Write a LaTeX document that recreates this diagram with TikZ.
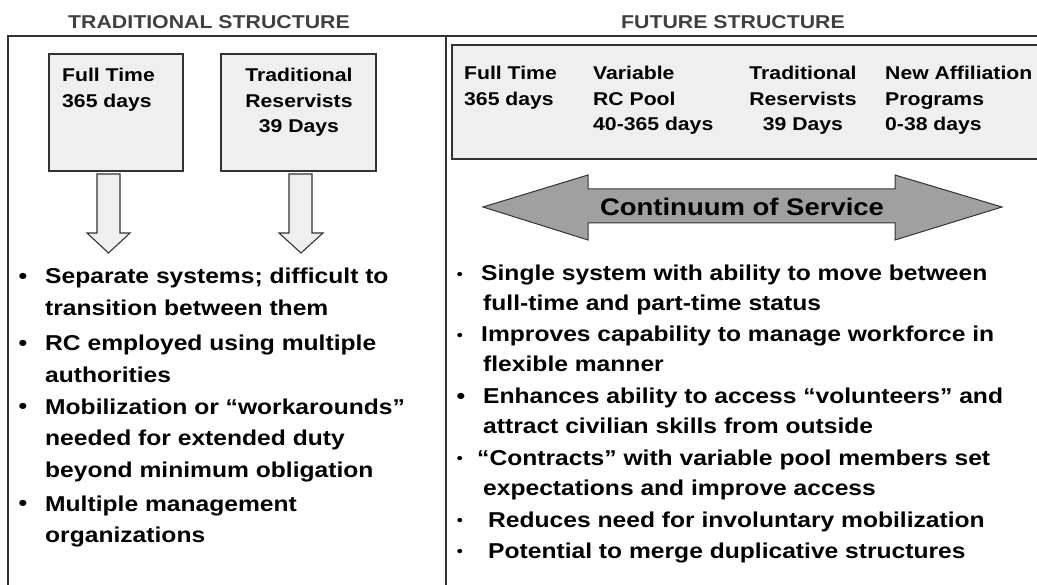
\documentclass[tikz,border=0pt]{standalone}
\usepackage{fontspec}
\setmainfont{Liberation Sans}[FakeStretch=1.145]
\usetikzlibrary{calc, positioning}
\usepackage{xcolor}
\definecolor{framegray}{HTML}{333333}
\definecolor{boxfill}{HTML}{EFEFEF}
\definecolor{headgray}{HTML}{404040}
\definecolor{arrowgray}{HTML}{A0A0A0}

\begin{document}
\begin{tikzpicture}[x=1pt, y=-1pt, line join=miter]
	\tikzstyle{frame} = [line width=1.5pt, draw=framegray]
	\tikzstyle{box} = [line width=1.2pt, draw=framegray, fill=boxfill, rectangle, inner sep=0pt]
	\tikzstyle{head} = [font=\fontsize{18.6}{22}\selectfont\bfseries, text=headgray, inner sep=0pt]
	\tikzstyle{boxtxt} = [font=\fontsize{18.5}{25.5}\selectfont\bfseries, inner sep=0pt, align=left]
	\tikzstyle{item} = [font=\fontsize{21.5}{31.5}\selectfont\bfseries, inner sep=0pt, align=left, anchor=base west]
	\tikzstyle{ritem} = [item, font=\fontsize{21.5}{30}\selectfont\bfseries]
	\tikzstyle{dot} = [font=\fontsize{21.5}{22}\selectfont\bfseries, inner sep=0pt]
	\tikzstyle{smalldot} = [font=\fontsize{15}{16}\selectfont\bfseries, inner sep=0pt]
	\tikzstyle{blockarrow} = [line width=1.1pt, draw=framegray, fill=boxfill]
	\tikzstyle{dblarrow} = [line width=1pt, draw=framegray, fill=arrowgray]
	
	\useasboundingbox (0,0) rectangle (1037,585);
	
	\node[head]		at (209,22)		(thead)	{TRADITIONAL STRUCTURE};
	\node[head]		at (733,22)		(fhead)	{FUTURE STRUCTURE};
	
	\draw[frame] (8,585) -- (8,36) -- (1037,36);
	\draw[frame] (446,36) -- (446,585);
	
	% traditional side (multi-line texts sit on their last baseline)
	\node[box, minimum width=134, minimum height=117]	at (116,112.5)	(ftbox)	{};
	\node[box, minimum width=155, minimum height=117]	at (298.5,112.5)	(trbox)	{};
	\node[boxtxt, anchor=base west]		at (62,107.5)	(fttxt)	{Full Time\\365 days};
	\node[boxtxt, anchor=base, align=center]	at (299,133)	(trtxt)	{Traditional\\Reservists\\39 Days};
	
	\draw[blockarrow] (97,174) -- (120,174) -- (120,233) -- (130,233) -- (108.5,253) -- (87,233) -- (97,233) -- cycle;
	\draw[blockarrow] (289,174) -- (312,174) -- (312,233) -- (323,233) -- (301,253) -- (279,233) -- (289,233) -- cycle;
	
	\node[dot]	at (23,278)	(ld1)	{\textbullet};
	\node[dot]	at (23,345)	(ld2)	{\textbullet};
	\node[dot]	at (23,408)	(ld3)	{\textbullet};
	\node[dot]	at (23,505)	(ld4)	{\textbullet};
	\node[item]	at (45,315.5)	(lt1)	{Separate systems; difficult to\\transition between them};
	\node[item]	at (45,382.5)	(lt2)	{RC employed using multiple\\authorities};
	\node[item]	at (45,477)	(lt3)	{Mobilization or “workarounds”\\needed for extended duty\\beyond minimum obligation};
	\node[item]	at (45,542.5)	(lt4)	{Multiple management\\organizations};
	
	% future side
	\node[box, minimum width=593, minimum height=114]	at (748.5,102)	(fubox)	{};
	\node[boxtxt, anchor=base west]		at (464,105.5)	(fftxt)	{Full Time\\365 days};
	\node[boxtxt, anchor=base west]		at (593,131)	(fvtxt)	{Variable\\RC Pool\\40-365 days};
	\node[boxtxt, anchor=base, align=center]	at (803,131)	(frtxt)	{Traditional\\Reservists\\39 Days};
	\node[boxtxt, anchor=base west]		at (885,131)	(fntxt)	{New Affiliation\\Programs\\0-38 days};
	
	\draw[dblarrow] (483,207) -- (588,175) -- (588,189) -- (895,189) -- (895,175) -- (1002,207)
		-- (895,240) -- (895,223) -- (588,223) -- (588,240) -- cycle;
	\node[font=\fontsize{24}{26}\selectfont\bfseries, inner sep=0pt]	at (742,207)	(cos)	{Continuum of Service};
	
	\node[smalldot]	at (460,276)	(rd1)	{\textbullet};
	\node[smalldot]	at (460,337)	(rd2)	{\textbullet};
	\node[dot]		at (461,398)	(rd3)	{\textbullet};
	\node[smalldot]	at (460,460)	(rd4)	{\textbullet};
	\node[smalldot]	at (460,522)	(rd5)	{\textbullet};
	\node[smalldot]	at (460,553)	(rd6)	{\textbullet};
	\node[ritem]	at (481,311)	(rt1)	{Single system with ability to move between\\\hspace*{2pt}full-time and part-time status};
	\node[ritem]	at (481,372)	(rt2)	{Improves capability to manage workforce in\\\hspace*{2pt}flexible manner};
	\node[ritem]	at (483,434)	(rt3)	{Enhances ability to access “volunteers” and\\attract civilian skills from outside};
	\node[ritem]	at (477,495)	(rt4)	{“Contracts” with variable pool members set\\\hspace*{6pt}expectations and improve access};
	\node[ritem]	at (488,527)	(rt5)	{Reduces need for involuntary mobilization};
	\node[ritem]	at (488,558)	(rt6)	{Potential to merge duplicative structures};
\end{tikzpicture}
\end{document}
